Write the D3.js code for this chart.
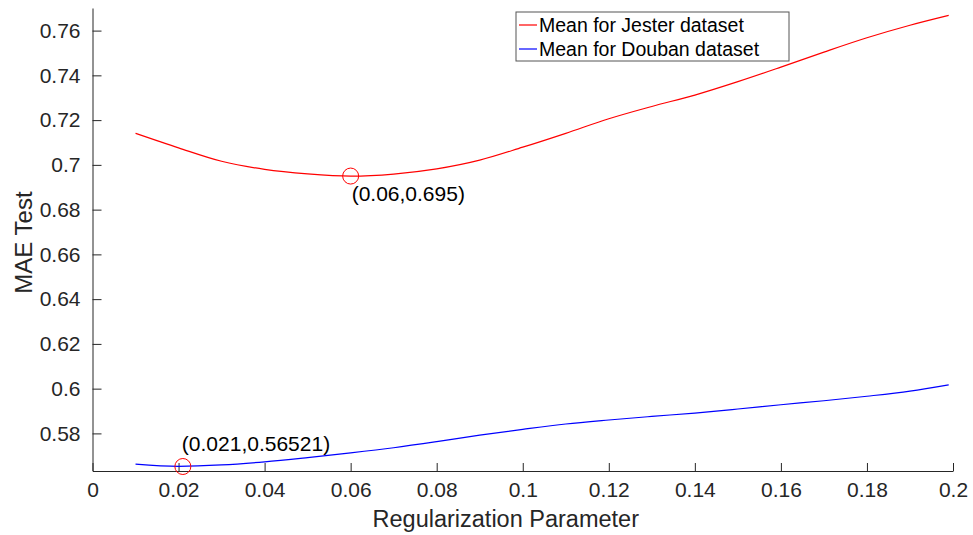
<!DOCTYPE html>
<html>
<head>
<meta charset="utf-8">
<script src="https://cdnjs.cloudflare.com/ajax/libs/d3/7.8.5/d3.min.js"></script>
<style>
  body { margin: 0; background: #fff; }
  svg text { font-family: "Liberation Sans", Arial, Helvetica, sans-serif; }
</style>
</head>
<body>
<svg id="chart"></svg>
<script>
"use strict";

// ==========================
// data
// ==========================
var regParam = [0.01, 0.02, 0.03, 0.04, 0.05, 0.06, 0.07, 0.08, 0.09, 0.10,
                0.11, 0.12, 0.13, 0.14, 0.15, 0.16, 0.17, 0.18, 0.19, 0.199];
var jesterMae = [0.7141, 0.7076, 0.7016, 0.6980, 0.6960, 0.6950, 0.6959, 0.6982, 0.7021, 0.7079,
                 0.7141, 0.7206, 0.7261, 0.7312, 0.7372, 0.7437, 0.7504, 0.7568, 0.7624, 0.7668];
var doubanMae = [0.5663, 0.5653, 0.5659, 0.5673, 0.5692, 0.5713, 0.5736, 0.5763, 0.5792, 0.5818,
                 0.5842, 0.5860, 0.5876, 0.5891, 0.5909, 0.5928, 0.5946, 0.5966, 0.5989, 0.6017];
var seriesNames = ["Mean for Jester dataset", "Mean for Douban dataset"];
var seriesColors = ["#ff0000", "#0000ff"];
var minPoints = [
  { x: 0.06, y: 0.695, label: "(0.06,0.695)" },
  { x: 0.021, y: 0.56521, label: "(0.021,0.56521)" }
];
var xTicks = [0, 0.02, 0.04, 0.06, 0.08, 0.1, 0.12, 0.14, 0.16, 0.18, 0.2];
var yTicks = [0.58, 0.6, 0.62, 0.64, 0.66, 0.68, 0.7, 0.72, 0.74, 0.76];

// ==========================
// chart
// ==========================
var width = 973, height = 535,
    margin = { top: 8, right: 20, bottom: 64, left: 92.5 },
    w = width - margin.left - margin.right,
    h = height - margin.top - margin.bottom;

var svg = d3.select("#chart").attr("width", width).attr("height", height);
var g = svg.append("g").attr("transform", "translate(" + margin.left + "," + margin.top + ")");

var x = d3.scaleLinear().domain([0, 0.2]).range([0, 860.5]),
    y = d3.scaleLinear().domain([0.5632, 0.7701]).range([h, 0]);

var fmt = function (d) { return String(+d.toFixed(3)); };
var axisColor = "#262626";

// y axis
var yAxis = g.append("g").call(d3.axisLeft(y).tickValues(yTicks).tickFormat(fmt).tickSizeInner(-9).tickSizeOuter(0).tickPadding(12));
// x axis
var xAxis = g.append("g").attr("transform", "translate(0," + h + ")")
  .call(d3.axisBottom(x).tickValues(xTicks).tickFormat(fmt).tickSizeInner(-8).tickSizeOuter(0).tickPadding(11));

[xAxis, yAxis].forEach(function (a) {
  a.select(".domain").attr("stroke", axisColor);
  a.selectAll(".tick line").attr("stroke", axisColor);
  a.selectAll(".tick text").attr("fill", axisColor).style("font-size", "21px");
});
xAxis.selectAll(".tick text").attr("dy", "0.71em");

// axis labels
svg.append("text").attr("x", margin.left + x(0.1) - 17).attr("y", 527)
  .attr("text-anchor", "middle").attr("fill", axisColor).style("font-size", "23.5px")
  .text("Regularization Parameter");
svg.append("text").attr("transform", "translate(32," + (margin.top + h / 2 + 3) + ") rotate(-90)")
  .attr("text-anchor", "middle").attr("fill", axisColor).style("font-size", "24px")
  .text("MAE Test");

// lines
var line = d3.line().x(function (d) { return x(d[0]); }).y(function (d) { return y(d[1]); })
  .curve(d3.curveMonotoneX);

[jesterMae, doubanMae].forEach(function (vals, i) {
  g.append("path")
    .datum(regParam.map(function (r, j) { return [r, vals[j]]; }))
    .attr("fill", "none").attr("stroke", seriesColors[i]).attr("stroke-width", 1.2)
    .attr("d", line);
});

// minimum markers
g.selectAll(".minMark").data(minPoints).enter().append("circle")
  .attr("class", "minMark")
  .attr("cx", function (d) { return x(d.x); })
  .attr("cy", function (d) { return y(d.y); })
  .attr("r", 8).attr("fill", "none").attr("stroke", "#ff0000").attr("stroke-width", 1);

g.append("text").attr("x", x(minPoints[0].x) + 1).attr("y", y(minPoints[0].y) + 25)
  .style("font-size", "21px").attr("fill", "#000").text(minPoints[0].label);
g.append("text").attr("x", x(minPoints[1].x) - 1).attr("y", y(minPoints[1].y) - 16)
  .style("font-size", "21px").attr("fill", "#000").text(minPoints[1].label);

// legend
var legend = svg.append("g").attr("transform", "translate(516,12)");
legend.append("rect").attr("width", 273).attr("height", 49)
  .attr("fill", "#fff").attr("stroke", "#555").attr("stroke-width", 1);
seriesNames.forEach(function (name, i) {
  var ly = 13 + i * 24;
  legend.append("line").attr("x1", 3).attr("x2", 21).attr("y1", ly).attr("y2", ly)
    .attr("stroke", seriesColors[i]).attr("stroke-width", 1.2);
  legend.append("text").attr("x", 23).attr("y", ly).attr("dy", "0.35em")
    .style("font-size", "19.5px").attr("fill", "#000").text(name);
});
</script>
</body>
</html>
